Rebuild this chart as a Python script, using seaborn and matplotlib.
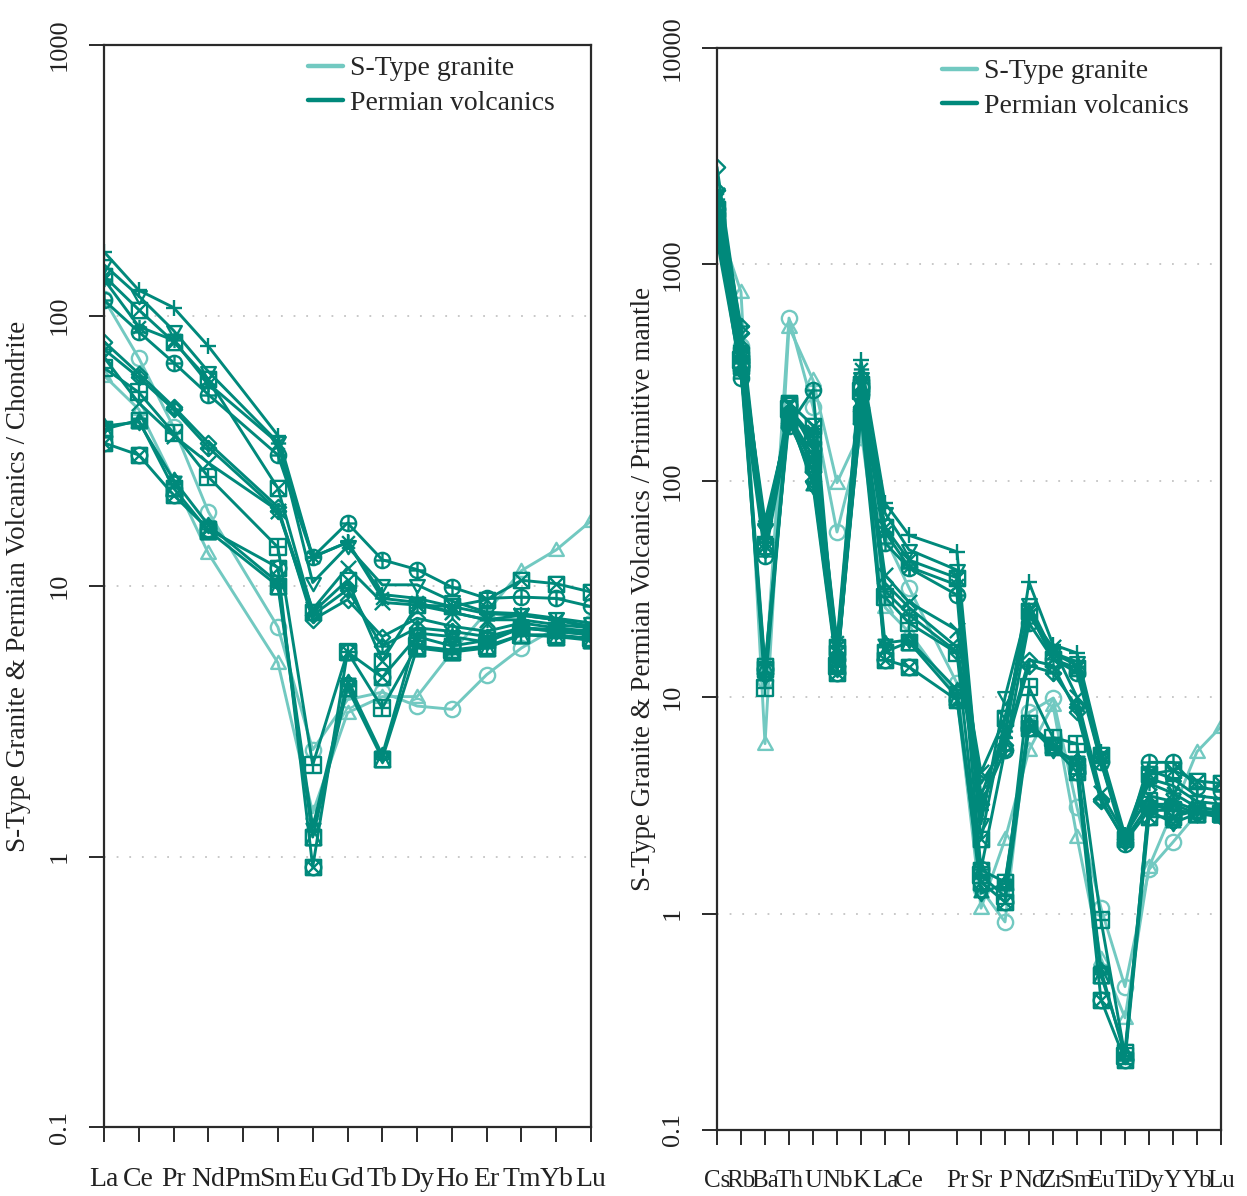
# %%
import numpy as np
import pandas as pd
import matplotlib
matplotlib.use("Agg")
import matplotlib.pyplot as plt
import seaborn as sns
from matplotlib.path import Path
from matplotlib.lines import Line2D

# %%
# element order of the two spider diagrams (Pm and Pb have no analyses)
ree_elements = ["La", "Ce", "Pr", "Nd", "Pm", "Sm", "Eu", "Gd", "Tb", "Dy",
                "Ho", "Er", "Tm", "Yb", "Lu"]
pm_elements = ["Cs", "Rb", "Ba", "Th", "U", "Nb", "K", "La", "Ce", "Pb", "Pr",
               "Sr", "P", "Nd", "Zr", "Sm", "Eu", "Ti", "Dy", "Y", "Yb", "Lu"]
pm_labels = [e if e != "Pb" else "" for e in pm_elements]

groups = ["S-Type granite", "Permian volcanics"]
nan = np.nan

# chondrite normalised REE
ree_sgran_1 = [115, 69.6, 38.7, 18.8, nan, 7.05, 2.48, 3.8, 4.05, 3.6, 3.5, 4.7, 5.9, 7.0, 7.3]
ree_sgran_2 = [60, 45, 24.7, 13.2, nan, 5.2, 1.45, 3.4, 3.9, 3.9, 5.7, 8.0, 11.4, 13.6, 17.4]
ree_perm_01 = [172, 124, 107, 77, nan, 36, 12.8, 14.5, 9.3, 9.0, 8.4, 7.9, 7.8, 7.5, 7.1]
ree_perm_02 = [154, 118, 88, 62, nan, 34, 10.3, 14.0, 10.1, 10.1, 8.8, 8.0, 7.9, 7.6, 7.3]
ree_perm_03 = [140, 105, 80, 58, nan, 23, 8.0, 10.5, 5.3, 8.5, 8.4, 8.9, 10.5, 10.2, 9.5]
ree_perm_04 = [136, 91, 81, 56, nan, 33.8, 12.8, 14.5, 9.0, 8.7, 8.0, 7.5, 7.5, 7.2, 7.0]
ree_perm_05 = [114, 87, 67, 51, nan, 30.5, 12.8, 17.1, 12.5, 11.5, 9.9, 9.0, 9.1, 9.0, 8.4]
ree_perm_06 = [70, 47.5, 36, 28.5, nan, 19, 8.2, 11.7, 8.7, 8.5, 8.0, 7.5, 7.8, 7.5, 7.0]
ree_perm_07 = [80, 61, 46, 33.8, nan, 19.6, 7.5, 8.9, 6.5, 7.6, 7.1, 6.8, 7.3, 7.0, 6.8]
ree_perm_08 = [75, 59, 45, 32.5, nan, 19.0, 7.8, 9.7, 6.0, 7.0, 6.8, 6.5, 7.0, 6.8, 6.6]
ree_perm_09 = [64, 52, 36.8, 25.3, nan, 13.9, 2.18, 5.7, 3.54, 6.0, 5.8, 6.0, 6.6, 6.6, 6.4]
ree_perm_10 = [39, 40.4, 24.7, 16.8, nan, 10.3, 1.28, 4.4, 2.37, 6.7, 6.5, 6.2, 7.0, 6.8, 6.6]
ree_perm_11 = [33.8, 30.5, 21.7, 16.2, nan, 11.7, 0.915, 5.7, 4.6, 6.5, 6.0, 6.3, 7.0, 6.9, 6.7]
ree_perm_12 = [38, 41, 23, 16, nan, 10.0, 1.18, 4.2, 2.3, 5.9, 5.7, 5.9, 6.6, 6.5, 6.3]

# primitive mantle normalised multi-element
pm_sgran_1 = [1400, 420, 12, 565, 219, 58, 160, 55, 32, nan, 11.6, 1.3, 0.915, 8.5, 9.9, 3.1, 1.06, 0.46, 1.6, 2.14, 2.9, 3.0]
pm_sgran_2 = [1600, 746, 6.1, 514, 292, 98, 170, 26, 20, nan, 10, 1.06, 2.2, 5.7, 9.2, 2.26, 0.62, 0.33, 1.64, 3.0, 5.6, 7.3]
pm_perm_01 = [1900, 420, 55, 210, 150, 16, 361, 79, 56, nan, 47, 3.0, 6.5, 34, 17.5, 16, 5.6, 2.3, 4.6, 4.2, 3.5, 3.4]
pm_perm_02 = [1700, 380, 60, 200, 130, 15, 300, 71, 48, nan, 38.7, 2.6, 10, 27, 16, 14.6, 5.2, 2.2, 4.2, 3.9, 3.3, 3.2]
pm_perm_03 = [1600, 350, 50, 230, 180, 17, 280, 61, 43, nan, 35.6, 2.2, 8, 25, 15, 13.6, 5.4, 2.2, 4.4, 4.6, 4.1, 4.0]
pm_perm_04 = [2000, 400, 65, 190, 170, 18, 330, 58, 40, nan, 33, 3.5, 7, 24, 16, 14, 5.0, 2.25, 4.0, 3.6, 3.1, 3.0]
pm_perm_05 = [1500, 300, 45, 180, 263, 14, 250, 51.6, 39.5, nan, 29.7, 1.6, 5.7, 22, 15, 13, 5.0, 2.1, 5.0, 5.0, 3.85, 3.7]
pm_perm_06 = [2100, 450, 58, 200, 120, 16, 240, 36.7, 27.5, nan, 20.4, 4.5, 8, 24, 17, 10, 3.6, 2.3, 3.5, 3.3, 3.0, 2.9]
pm_perm_07 = [2818, 480, 48, 185, 110, 15, 220, 33.7, 26, nan, 17, 4.0, 6, 14.9, 14, 8.5, 3.3, 2.2, 3.2, 3.2, 2.9, 2.9]
pm_perm_08 = [2200, 520, 52, 195, 100, 14, 210, 31, 24, nan, 16.2, 3.2, 5.7, 14, 13, 9, 3.4, 2.15, 3.0, 3.0, 2.9, 2.8]
pm_perm_09 = [1600, 360, 11, 215, 160, 14, 260, 29, 22, nan, 16, 1.5, 1.2, 11.1, 6.5, 6.1, 0.93, 0.22, 3.3, 3.0, 2.9, 2.9]
pm_perm_10 = [1300, 320, 12.5, 205, 95, 13.5, 230, 17.8, 18.4, nan, 10.8, 1.24, 1.38, 7.4, 5.7, 5.1, 0.55, 0.22, 3.0, 2.62, 2.9, 2.9]
pm_perm_11 = [1800, 340, 13.5, 225, 140, 13, 270, 14.9, 13.8, nan, 9.7, 1.4, 1.13, 7.2, 5.9, 4.5, 0.40, 0.21, 2.8, 2.8, 3.0, 2.9]
pm_perm_12 = [1500, 380, 14, 190, 120, 16, 200, 16.2, 18, nan, 10, 1.59, 1.4, 7.6, 6.0, 4.8, 0.52, 0.23, 3.2, 3.0, 2.9, 2.9]

ree_samples = [ree_sgran_1, ree_sgran_2, ree_perm_01, ree_perm_02, ree_perm_03,
               ree_perm_04, ree_perm_05, ree_perm_06, ree_perm_07, ree_perm_08,
               ree_perm_09, ree_perm_10, ree_perm_11, ree_perm_12]
pm_samples = [pm_sgran_1, pm_sgran_2, pm_perm_01, pm_perm_02, pm_perm_03,
              pm_perm_04, pm_perm_05, pm_perm_06, pm_perm_07, pm_perm_08,
              pm_perm_09, pm_perm_10, pm_perm_11, pm_perm_12]
sample_group = [0, 0] + [1] * 12

# %%
# R-like plotting symbols built from paths
M, L, C = Path.MOVETO, Path.LINETO, Path.CLOSEPOLY


def poly(pts):
    return Path(pts + [pts[0]], [M] + [L] * (len(pts) - 1) + [C])


def seg(a, b):
    return Path([a, b], [M, L])


def combo(*paths):
    return Path.make_compound_path(*paths)


circle = Path.unit_circle()
square = poly([(-1, -1), (1, -1), (1, 1), (-1, 1)])
diamond = poly([(0, -1.3), (1.3, 0), (0, 1.3), (-1.3, 0)])
tri_up = poly([(-1.15, -0.85), (1.15, -0.85), (0, 1.2)])
tri_dn = poly([(-1.15, 0.85), (1.15, 0.85), (0, -1.2)])
plus = combo(seg((-1.2, 0), (1.2, 0)), seg((0, -1.2), (0, 1.2)))
cross = combo(seg((-1, -1), (1, 1)), seg((-1, 1), (1, -1)))
plus_in = combo(seg((-1, 0), (1, 0)), seg((0, -1), (0, 1)))
plus_dia = combo(seg((-1.3, 0), (1.3, 0)), seg((0, -1.3), (0, 1.3)))

sample_marker = [
    circle, tri_up,
    plus,                                   # 3
    tri_dn,                                 # 6
    combo(square, cross),                   # 7
    combo(plus, cross),                     # 8
    combo(circle, plus_in),                 # 10
    cross,                                  # 4
    diamond,                                # 5
    combo(diamond, plus_dia),               # 9
    combo(square, plus_in),                 # 12
    combo(poly([(-1.1, -0.6), (1.1, -0.6), (0, 1.2)]),
          poly([(-1.1, 0.6), (1.1, 0.6), (0, -1.2)])),  # 11
    combo(circle, seg((-0.7, -0.7), (0.7, 0.7)), seg((-0.7, 0.7), (0.7, -0.7)),
          square),                          # 13 / 7
    combo(square, poly([(-1, -1), (1, -1), (0, 1)])),   # 14
]

colours = ["#72c9c1", "#00897b"]

# %%
sns.set_theme(style="white")
plt.rcParams["font.family"] = ["Liberation Serif", "DejaVu Serif"]

fig = plt.figure(figsize=(12.47, 11.96), dpi=100)
ax1 = fig.add_axes([104 / 1247, 1 - 1127 / 1196, 487 / 1247, 1082 / 1196])
ax2 = fig.add_axes([717 / 1247, 1 - 1130 / 1196, 504 / 1247, 1082 / 1196])


def spider(ax, elements, samples):
    rows = []
    for i, vals in enumerate(samples):
        for j, v in enumerate(vals):
            rows.append({"sample": i, "group": groups[sample_group[i]],
                         "pos": j, "value": v})
    df = pd.DataFrame(rows).dropna()
    for i in range(len(samples)):
        sub = df[df["sample"] == i]
        c = colours[sample_group[i]]
        sns.lineplot(data=sub, x="pos", y="value", ax=ax, color=c,
                     marker=sample_marker[i], markersize=11, mec=c,
                     mfc="none", mew=1.7, lw=2.1, legend=False,
                     estimator=None)
    ax.set_yscale("log")
    ax.set_xlim(0, len(elements) - 1)


spider(ax1, ree_elements, ree_samples)
spider(ax2, pm_elements, pm_samples)

ax1.set_ylim(0.1, 1000)
ax2.set_ylim(0.1, 10000)

ax1.set_xticks(range(len(ree_elements)))
ax1.set_xticklabels(ree_elements)
pm_pos = [i for i, e in enumerate(pm_elements) if e != "Pb"]
ax2.set_xticks(pm_pos)
ax2.set_xticklabels([pm_labels[i] for i in pm_pos])

ax1.set_yticks([0.1, 1, 10, 100, 1000])
ax1.set_yticklabels(["0.1", "1", "10", "100", "1000"], rotation=90, va="center")
ax2.set_yticks([0.1, 1, 10, 100, 1000, 10000])
ax2.set_yticklabels(["0.1", "1", "10", "100", "1000", "10000"], rotation=90,
                    va="center")

for ax, grid, xsize in [(ax1, [1, 10, 100], 20), (ax2, [1, 10, 100, 1000], 18)]:
    ax.minorticks_off()
    ax.yaxis.set_minor_locator(matplotlib.ticker.NullLocator())
    for g in grid:
        ax.axhline(g, color="#c4c4c4", lw=1.3, ls=(0, (1, 6)), zorder=0)
    for s in ax.spines.values():
        s.set_visible(True)
        s.set_color("#2a2a2a")
        s.set_linewidth(1.6)
    ax.tick_params(axis="both", direction="out", length=11, width=1.4,
                   color="#2a2a2a", labelcolor="#222222",
                   bottom=True, left=True)
    ax.tick_params(axis="x", pad=18, labelsize=xsize)
    ax.tick_params(axis="y", pad=13, labelsize=19)
    ax.set_xlabel("")

ax1.set_ylabel("S-Type Granite & Permian Volcanics / Chondrite", fontsize=19.5,
               color="#222222")
ax1.yaxis.set_label_coords(-0.15, 0.5)
ax2.set_ylabel("S-Type Granite & Permian Volcanics / Primitive mantle",
               fontsize=19.5, color="#222222")
ax2.yaxis.set_label_coords(-0.122, 0.5)

handles = [Line2D([], [], color=colours[0], lw=3.2),
           Line2D([], [], color=colours[1], lw=3.2)]
for ax, x0 in [(ax1, 0.419), (ax2, 0.447)]:
    ax.legend(handles, groups, loc="upper left", bbox_to_anchor=(x0, 0.99),
              frameon=False, fontsize=20, handlelength=1.25,
              handletextpad=0.25, borderpad=0, borderaxespad=0,
              labelspacing=0.32)

plt.savefig("out.png", dpi=100)
